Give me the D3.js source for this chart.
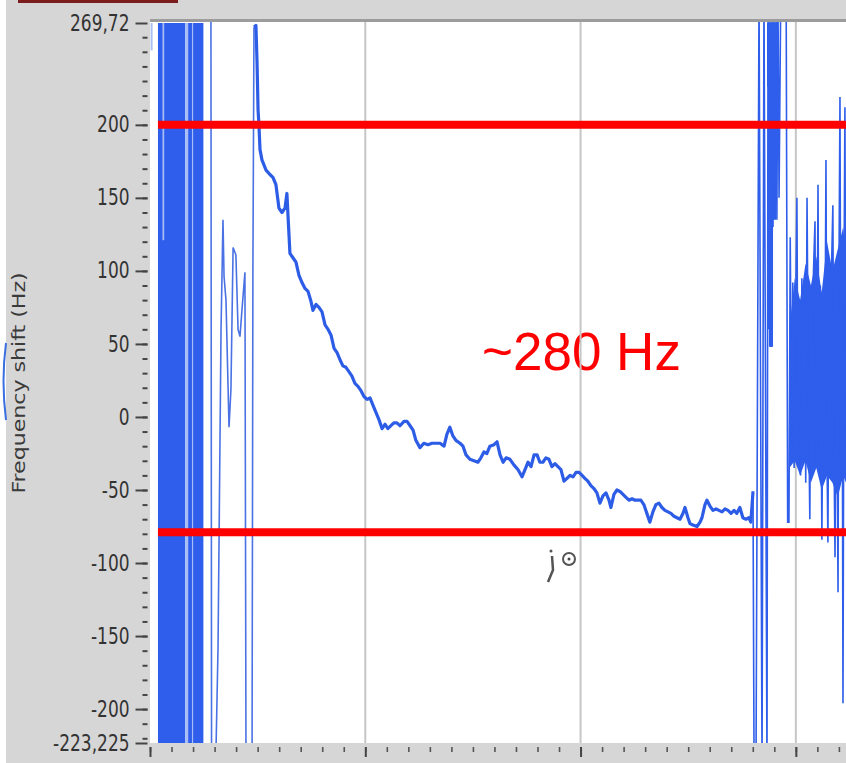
<!DOCTYPE html>
<html>
<head>
<meta charset="utf-8">
<script src="https://cdn.jsdelivr.net/npm/d3@7"></script>
<style>
body { margin: 0; background: #fff; }
svg { display: block; }
</style>
</head>
<body>
<div id="wrapper"></div>
<script>
// axis values (LabVIEW style, comma decimals)
const yMajorTicks = [269.72, 200, 150, 100, 50, 0, -50, -100, -150, -200, -223.225];
const yTickLabels = ["269,72", "200", "150", "100", "50", "0", "-50", "-100", "-150", "-200", "-223,225"];
const xMajorTicks = [0, 10, 20, 30];
const xDomain = [0, 32.33];
const yDomain = [-223.225, 269.72];

// saturated (dense) parts of the signal: [t0, t1, low, high]
const solidBands = [
    [0.37, 1.63, -223.225, 269.72],
    [1.77, 1.95, -223.225, 269.72],
    [2.00, 2.48, -223.225, 269.72],
    [28.66, 29.17, 226, 269.72],
    [28.75, 29.08, 135, 226],
    [28.75, 28.94, 48, 135]
];
// pale aliased stripes in the dense part
const lightBands = [
    [0.03, 0.12, 251, 269.72],
    [1.63, 1.77, -223.225, 269.72],
    [1.95, 2.00, -223.225, 269.72],
    [0.58, 0.66, 121, 269.72]
];

// signal before the decay (t, Hz)
const leftTrace = [[2.83,290],[2.86,-240],[3.05,-240],[3.16,-158],[3.30,60],[3.39,135],[3.44,96],[3.53,80],[3.67,-7],[3.76,19],
    [3.86,116],[3.99,111],[4.09,60],[4.18,55],[4.27,73],[4.41,99],[4.46,-240],[4.74,-240],[4.78,101],[4.83,267]];

// the decay itself
const mainTrace = [[4.83,267],[4.92,268],[4.97,244],[5.02,210],[5.06,200],[5.11,183],[5.20,176],[5.39,169],[5.57,166],[5.71,164],
    [5.85,159],[5.99,143],[6.13,140],[6.27,143],[6.36,153],[6.41,138],[6.50,112],[6.64,109],[6.78,106],[6.92,97],
    [7.06,92],[7.20,88],[7.34,86],[7.48,79],[7.57,73],[7.71,77],[7.85,75],[7.99,72],[8.13,63],[8.27,60],
    [8.41,56],[8.55,47],[8.69,44],[8.83,39],[8.96,35],[9.10,34],[9.24,31],[9.38,28],[9.52,23],[9.66,21],
    [9.80,18],[9.94,14],[10.08,12],[10.22,13],[10.36,8],[10.50,3],[10.64,-2],[10.78,-8],[10.92,-5],[11.05,-8],
    [11.19,-6],[11.33,-4],[11.47,-4],[11.61,-6],[11.80,-3],[11.94,-3],[12.08,-6],[12.22,-9],[12.35,-16],[12.54,-21],
    [12.72,-18],[12.91,-19],[13.10,-18],[13.28,-18],[13.47,-18],[13.66,-20],[13.79,-12],[13.93,-7],[14.07,-13],[14.21,-16],
    [14.40,-18],[14.54,-20],[14.68,-26],[14.86,-29],[15.05,-30],[15.23,-31],[15.37,-28],[15.51,-24],[15.65,-25],[15.79,-20],
    [15.98,-19],[16.12,-17],[16.26,-26],[16.40,-31],[16.54,-28],[16.72,-29],[16.91,-33],[17.09,-36],[17.28,-41],[17.42,-36],
    [17.56,-31],[17.70,-34],[17.84,-26],[17.98,-26],[18.11,-31],[18.25,-31],[18.39,-28],[18.53,-29],[18.67,-34],[18.81,-32],
    [18.95,-34],[19.09,-36],[19.23,-44],[19.37,-42],[19.51,-40],[19.65,-41],[19.79,-38],[19.93,-38],[20.07,-40],[20.20,-42],
    [20.34,-44],[20.48,-47],[20.62,-49],[20.76,-52],[20.90,-59],[21.04,-54],[21.18,-52],[21.32,-57],[21.41,-62],[21.55,-53],
    [21.69,-50],[21.83,-51],[21.97,-53],[22.11,-55],[22.25,-57],[22.39,-56],[22.53,-57],[22.67,-57],[22.80,-57],[22.94,-60],
    [23.08,-66],[23.22,-72],[23.36,-65],[23.50,-60],[23.64,-59],[23.78,-62],[23.92,-64],[24.06,-65],[24.20,-66],[24.34,-68],
    [24.48,-69],[24.62,-70],[24.76,-66],[24.85,-62],[24.99,-69],[25.08,-73],[25.22,-74],[25.41,-75],[25.55,-72],[25.64,-69],
    [25.78,-60],[25.87,-57],[26.01,-61],[26.15,-64],[26.29,-63],[26.43,-64],[26.57,-65],[26.71,-63],[26.85,-64],[26.99,-66],
    [27.13,-64],[27.26,-66],[27.40,-62],[27.54,-69],[27.68,-70],[27.82,-69],[27.91,-72],[28.01,-51]];

// noisy part after the decay
const rightTrace = [[28.01,-51],[28.06,-240],[28.15,-240],[28.29,290],[28.43,-240],[28.52,290],[28.66,-240],[28.71,290],[28.75,60],[28.80,290],
    [28.85,48],[28.89,290],[28.94,130],[28.98,290],[29.03,140],[29.08,290],[29.12,135],[29.17,290],[29.22,150],[29.30,290],
    [29.55,290],[29.62,-72],[29.68,-72],[29.74,123],[29.80,-20],[29.86,92],[29.92,-35],[29.98,60],[30.05,150],[30.10,-10],
    [30.16,72],[30.22,-40],[30.28,95],[30.34,-25],[30.40,82],[30.46,-45],[30.52,150],[30.58,20],[30.65,-70],[30.70,85],
    [30.76,-15],[30.82,100],[30.89,134],[30.94,-35],[31.00,75],[31.03,159],[31.08,-20],[31.14,90],[31.21,-84],[31.27,60],
    [31.33,-25],[31.40,176],[31.45,-30],[31.49,-86],[31.55,95],[31.61,-40],[31.67,110],[31.72,145],[31.77,-20],[31.82,-96],
    [31.88,70],[31.96,-120],[32.00,90],[32.05,219],[32.10,-40],[32.15,80],[32.19,-196],[32.24,100],[32.28,212],[32.33,-20]];

// dense core of the noisy part: [t, low, high]
const rightEnvelope = [[29.70,-35],[29.95,-30],[30.20,-40],[30.45,-30],[30.70,-45],[30.95,-35],[31.20,-50],[31.45,-40],
    [31.70,-45],[31.95,-55],[32.20,-40],[32.33,-45]];
const rightEnvelopeHigh = [60, 95, 80, 105, 90, 110, 85, 120, 100, 115, 130, 110];

// red marker levels and where they start
const markerLevels = [200, -79];
const markerStart = 0.37;

const dimension = {
    width: 846,
    height: 763,
    plot: { left: 150, right: 846, top: 22, bottom: 743 }
};
const p = dimension.plot;

const svg = d3.select("#wrapper").append("svg")
    .attr("width", dimension.width)
    .attr("height", dimension.height);

// panel background
svg.append("rect").attr("x", 6).attr("y", 0).attr("width", 840).attr("height", 763).attr("fill", "#d6d6d6");
svg.append("rect").attr("x", 18).attr("y", 0).attr("width", 160).attr("height", 3).attr("fill", "#7b1d1d");
svg.append("rect").attr("x", 150).attr("y", 19).attr("width", 696).attr("height", 3).attr("fill", "#9c9c9c");
svg.append("rect").attr("x", p.left).attr("y", p.top)
    .attr("width", p.right - p.left).attr("height", p.bottom - p.top).attr("fill", "#fff");

// small blue arc on the far left
svg.append("path").attr("d", "M6,343 Q1,381 6,420").attr("fill", "none")
    .attr("stroke", "#3a6fe0").attr("stroke-width", 2);

const xScaler = d3.scaleLinear().domain(xDomain).range([p.left, p.right]);
const yScaler = d3.scaleLinear().domain(yDomain).range([p.bottom, p.top + 1]);

svg.append("clipPath").attr("id", "plotclip")
    .append("rect").attr("x", p.left).attr("y", p.top)
    .attr("width", p.right - p.left).attr("height", p.bottom - p.top);

const bounded = svg.append("g").attr("clip-path", "url(#plotclip)");

// annotation text sits under the grid
bounded.append("text")
    .attr("x", 482).attr("y", 370)
    .style("font-family", "'Liberation Sans', Arial, sans-serif")
    .style("font-size", "53px")
    .attr("fill", "#ff0000")
    .text("~280 Hz");

// vertical grid
bounded.selectAll(".grid").data(xMajorTicks.filter(d => d > 0)).join("line")
    .attr("x1", d => xScaler(d)).attr("x2", d => xScaler(d))
    .attr("y1", p.top).attr("y2", p.bottom)
    .attr("stroke", "#c6c6c6").attr("stroke-width", 2);

// dense blocks
bounded.selectAll(".solid").data(solidBands).join("rect")
    .attr("x", d => xScaler(d[0])).attr("width", d => xScaler(d[1]) - xScaler(d[0]))
    .attr("y", d => yScaler(d[3])).attr("height", d => yScaler(d[2]) - yScaler(d[3]))
    .attr("fill", "#2e5eeb");
bounded.selectAll(".light").data(lightBands).join("rect")
    .attr("x", d => xScaler(d[0])).attr("width", d => xScaler(d[1]) - xScaler(d[0]))
    .attr("y", d => yScaler(d[3])).attr("height", d => yScaler(d[2]) - yScaler(d[3]))
    .attr("fill", "#a8bdf4");

const genArea = d3.area()
    .x(d => xScaler(d[0]))
    .y0(d => yScaler(d[1]))
    .y1((d, i) => yScaler(rightEnvelopeHigh[i]))
    .curve(d3.curveLinear);
bounded.append("path").attr("d", genArea(rightEnvelope)).attr("fill", "#2e5eeb");

const genLine = d3.line()
    .x(d => xScaler(d[0]))
    .y(d => yScaler(d[1]));

bounded.append("path").attr("d", genLine(leftTrace))
    .attr("fill", "none").attr("stroke", "#4a72e4").attr("stroke-width", 1.6);
bounded.append("path").attr("d", genLine(mainTrace))
    .attr("fill", "none").attr("stroke", "#2d5de6").attr("stroke-width", 3.2)
    .attr("stroke-linejoin", "round");
bounded.append("path").attr("d", genLine(rightTrace))
    .attr("fill", "none").attr("stroke", "#2e5eeb").attr("stroke-width", 1.6);

// red marker lines
bounded.selectAll(".marker").data(markerLevels).join("line")
    .attr("x1", xScaler(markerStart)).attr("x2", p.right)
    .attr("y1", d => yScaler(d)).attr("y2", d => yScaler(d))
    .attr("stroke", "#ff0000").attr("stroke-width", 8);

// y axis
const yAxis = d3.axisLeft(yScaler)
    .tickValues(yMajorTicks)
    .tickFormat((d, i) => yTickLabels[i])
    .tickSize(12)
    .tickPadding(6);
const yMinor = d3.axisLeft(yScaler)
    .tickValues(d3.range(-220, 270, 10))
    .tickFormat("")
    .tickSize(5);

const yg = svg.append("g").attr("transform", "translate(147.5,0)").call(yMinor);
yg.select(".domain").remove();
yg.selectAll("line").attr("stroke", "#444").attr("stroke-width", 2);

const yg2 = svg.append("g").attr("transform", "translate(147.5,0)").call(yAxis);
yg2.select(".domain").remove();
yg2.selectAll("line").attr("stroke", "#444").attr("stroke-width", 2);
yg2.selectAll("text")
    .style("font-family", "'DejaVu Sans', sans-serif")
    .style("font-size", "17px")
    .attr("fill", "#333")
    .attr("transform", "scale(1,1.3)");

// x axis ticks (labels fall below the photo)
const xMinor = d3.axisBottom(xScaler).tickValues(d3.range(0, 33, 1)).tickFormat("").tickSize(5);
const xMajor = d3.axisBottom(xScaler).tickValues(xMajorTicks).tickFormat("").tickSize(10);
const xg = svg.append("g").attr("transform", "translate(0,747)").call(xMinor);
xg.select(".domain").remove();
xg.selectAll("line").attr("stroke", "#555").attr("stroke-width", 1.6);
const xg2 = svg.append("g").attr("transform", "translate(0,747)").call(xMajor);
xg2.select(".domain").remove();
xg2.selectAll("line").attr("stroke", "#444").attr("stroke-width", 2);

// y axis title
svg.append("text")
    .attr("transform", "translate(25,383) scale(1,1.3) rotate(-90)")
    .attr("text-anchor", "middle")
    .style("font-family", "'DejaVu Sans', sans-serif")
    .style("font-size", "17px")
    .attr("fill", "#3a3a3a")
    .text("Frequency shift (Hz)");

// mouse cursor left in the screenshot
const cursor = svg.append("g").attr("fill", "none").attr("stroke", "#555");
cursor.append("circle").attr("cx", 569).attr("cy", 559).attr("r", 6).attr("stroke-width", 2);
cursor.append("circle").attr("cx", 569).attr("cy", 559).attr("r", 1.5).attr("fill", "#444").attr("stroke", "none");
cursor.append("circle").attr("cx", 551).attr("cy", 551).attr("r", 1.5).attr("fill", "#555").attr("stroke", "none");
cursor.append("path").attr("d", "M552,556 L553,570 L548,582").attr("stroke-width", 2.5);
</script>
</body>
</html>
